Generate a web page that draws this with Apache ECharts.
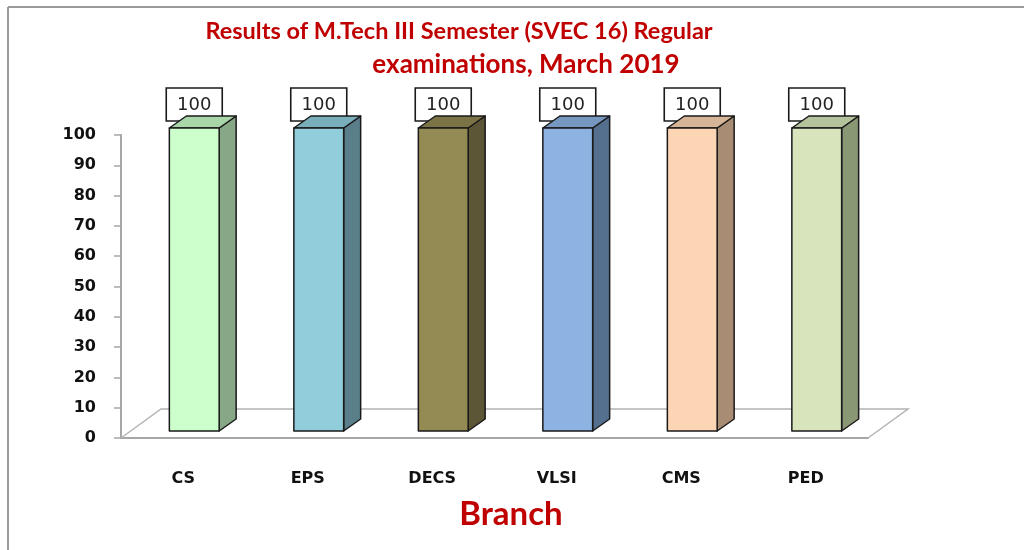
<!DOCTYPE html>
<html>
<head>
<meta charset="utf-8">
<script src="https://cdn.jsdelivr.net/npm/echarts@6/dist/echarts.min.js"></script>
<style>
html, body { margin: 0; padding: 0; background: #fff; }
#main { width: 1024px; height: 550px; }
</style>
</head>
<body>
<div id="main"></div>
<script>
// data
var branches = ['CS', 'EPS', 'DECS', 'VLSI', 'CMS', 'PED'];
var passPercent = [100, 100, 100, 100, 100, 100];
var frontColors = ['#ccffcc', '#92cddc', '#948a54', '#8db3e2', '#fcd5b4', '#d7e4bc'];
var sideColors = ['#86a886', '#5b7f8a', '#5c5636', '#55708f', '#a88c73', '#8a9775'];
var topColors = ['#a9d6a9', '#79aebb', '#7b7345', '#7597c0', '#d6b498', '#b5c39c'];

var dom = document.getElementById('main');
var myChart = echarts.init(dom);

// 3d-ish bar: front face, side face, top face, plus boxed value label
function renderBar(params, api) {
    var i = api.value(0);
    var v = api.value(1);
    var base = api.coord([i, 0]);
    var top = api.coord([i, v]);
    var w = api.size([1, 0])[0] * 0.4;
    var ox = 11, oy = -7;   // bar sits a little back on the floor
    var dx = 17, dy = -12;  // bar depth
    var x0 = base[0] - w / 2 + ox;
    var x1 = x0 + w;
    var yb = base[1] + oy;
    var yt = top[1] + oy;
    var edge = { stroke: '#1a1a1a', lineWidth: 1.5, lineJoin: 'round' };
    var cx = x0 + w / 2;
    return {
        type: 'group',
        children: [
            {
                type: 'rect',
                shape: { x: cx - 28, y: yt - 40, width: 56, height: 33 },
                style: { fill: '#fff', stroke: '#1a1a1a', lineWidth: 1.6 }
            },
            {
                type: 'text',
                style: {
                    x: cx, y: yt - 23, text: String(v), align: 'center', verticalAlign: 'middle',
                    fill: '#222', font: '18px "DejaVu Sans"'
                }
            },
            {
                type: 'polygon',
                shape: { points: [[x1, yb], [x1 + dx, yb + dy], [x1 + dx, yt + dy], [x1, yt]] },
                style: echarts.util.extend({ fill: sideColors[i] }, edge)
            },
            {
                type: 'polygon',
                shape: { points: [[x0, yt], [x0 + dx, yt + dy], [x1 + dx, yt + dy], [x1, yt]] },
                style: echarts.util.extend({ fill: topColors[i] }, edge)
            },
            {
                type: 'rect',
                shape: { x: x0, y: yt, width: w, height: yb - yt },
                style: echarts.util.extend({ fill: frontColors[i] }, edge)
            }
        ]
    };
}

// floor back edge and side diagonals
function renderFloor(params, api) {
    var cs = params.coordSys;
    var fx = 40, fy = -29;
    var yb = cs.y + cs.height;
    var st = { stroke: '#b3b3b3', lineWidth: 1.5, fill: null };
    return {
        type: 'group',
        children: [
            { type: 'polyline', shape: { points: [[cs.x, yb], [cs.x + fx, yb + fy], [cs.x + cs.width + fx, yb + fy], [cs.x + cs.width, yb]] }, style: st }
        ]
    };
}

var barData = passPercent.map(function (v, i) { return [i, v]; });

option = {
    animation: false,
    title: [
        {
            text: 'Results of M.Tech III Semester (SVEC 16) Regular',
            left: 454, top: 14, textAlign: 'center',
            textStyle: { color: '#c00000', fontSize: 23.5, fontWeight: 'bold', fontFamily: 'Lato' }
        },
        {
            text: 'examinations, March 2019',
            left: 521, top: 47, textAlign: 'center',
            textStyle: { color: '#c00000', fontSize: 26, fontWeight: 'bold', fontFamily: 'Lato' }
        }
    ],
    grid: { left: 121, right: 156, top: 135, bottom: 112 },
    xAxis: {
        type: 'category',
        data: branches,
        name: 'Branch',
        nameLocation: 'middle',
        nameGap: 60,
        nameTextStyle: { color: '#c00000', fontSize: 33, fontFamily: 'Lato', fontWeight: 'bold', padding: [0, 0, 0, 33] },
        axisLine: { lineStyle: { color: '#a6a6a6', width: 2 } },
        axisTick: { length: 9, lineStyle: { color: '#a6a6a6', width: 1.5 } },
        axisLabel: {
            margin: 33,
            color: '#111',
            fontSize: 16,
            fontWeight: 'bold',
            fontFamily: 'DejaVu Sans'
        }
    },
    yAxis: {
        type: 'value',
        min: 0,
        max: 100,
        interval: 10,
        splitLine: { show: false },
        axisLine: { show: true, lineStyle: { color: '#a6a6a6', width: 2 } },
        axisTick: { show: true, length: 7, lineStyle: { color: '#a6a6a6', width: 1.5 } },
        axisLabel: {
            margin: 25,
            color: '#111',
            fontSize: 16,
            fontWeight: 'bold',
            fontFamily: 'DejaVu Sans'
        }
    },
    graphic: [
        { type: 'line', shape: { x1: 8, y1: 7, x2: 1024, y2: 7 }, style: { stroke: '#9a9a9a', lineWidth: 2 } },
        { type: 'line', shape: { x1: 8, y1: 7, x2: 8, y2: 550 }, style: { stroke: '#9a9a9a', lineWidth: 2 } }
    ],
    series: [
        {
            type: 'custom',
            name: 'floor',
            renderItem: renderFloor,
            data: [[0, 0]],
            z: 1,
            silent: true
        },
        {
            type: 'custom',
            name: 'Pass %',
            renderItem: renderBar,
            encode: { x: 0, y: 1 },
            data: barData,
            z: 2
        }
    ]
};
myChart.setOption(option, true);
</script>
</body>
</html>
